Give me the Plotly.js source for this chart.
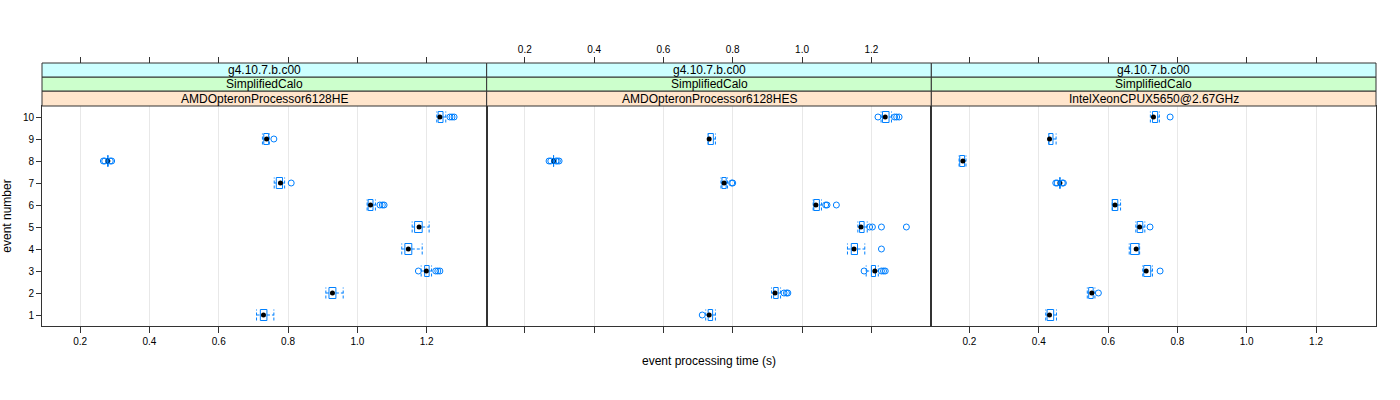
<!DOCTYPE html>
<html>
<head>
<meta charset="utf-8">
<script src="https://cdn.plot.ly/plotly-3.0.1.min.js"></script>
<style>html,body{margin:0;padding:0;background:#fff;}</style>
</head>
<body>
<div id="chart" style="width:1400px;height:400px;"></div>
<script>
// ---- data ----
const events = [1, 2, 3, 4, 5, 6, 7, 8, 9, 10];
const stripVersion = "g4.10.7.b.c00";
const stripTest = "SimplifiedCalo";
const machines = ["AMDOpteronProcessor6128HE", "AMDOpteronProcessor6128HES", "IntelXeonCPUX5650@2.67GHz"];
const tickVals = [0.2, 0.4, 0.6, 0.8, 1.0, 1.2];
const tickLabels = ["0.2", "0.4", "0.6", "0.8", "1.0", "1.2"];

// panel 1: AMDOpteronProcessor6128HE
const p1_lo  = [0.709, 0.909, 1.184, 1.128, 1.158, 1.028, 0.760, 0.280, 0.726, 1.229];
const p1_q1  = [0.720, 0.918, 1.194, 1.137, 1.165, 1.031, 0.766, 0.280, 0.730, 1.233];
const p1_med = [0.729, 0.928, 1.199, 1.147, 1.178, 1.038, 0.778, 0.280, 0.738, 1.238];
const p1_q3  = [0.739, 0.938, 1.207, 1.157, 1.187, 1.045, 0.784, 0.280, 0.744, 1.247];
const p1_hi  = [0.759, 0.959, 1.214, 1.187, 1.207, 1.052, 0.790, 0.280, 0.746, 1.255];
const p1_out = [[], [], [1.176, 1.226, 1.232, 1.238], [], [], [1.065, 1.072, 1.077], [0.809], [0.267, 0.271, 0.287, 0.291], [0.759], [1.267, 1.273, 1.279]];

// panel 2: AMDOpteronProcessor6128HES
const p2_lo  = [0.722, 0.912, 1.185, 1.131, 1.161, 1.032, 0.766, 0.283, 0.729, 1.228];
const p2_q1  = [0.729, 0.918, 1.200, 1.142, 1.166, 1.034, 0.769, 0.283, 0.729, 1.232];
const p2_med = [0.732, 0.922, 1.210, 1.150, 1.170, 1.040, 0.775, 0.283, 0.732, 1.240];
const p2_q3  = [0.742, 0.931, 1.212, 1.160, 1.179, 1.050, 0.781, 0.283, 0.744, 1.251];
const p2_hi  = [0.750, 0.938, 1.220, 1.181, 1.188, 1.056, 0.785, 0.283, 0.750, 1.258];
const p2_out = [[0.712], [0.948, 0.955, 0.959], [1.179, 1.229, 1.235, 1.240], [1.229], [1.195, 1.203, 1.229, 1.301], [1.068, 1.072, 1.099], [0.797, 0.800], [0.270, 0.275, 0.290, 0.294, 0.299], [], [1.219, 1.267, 1.273, 1.280]];

// panel 3: IntelXeonCPUX5650@2.67GHz
const p3_lo  = [0.420, 0.540, 0.700, 0.661, 0.680, 0.612, 0.461, 0.170, 0.429, 0.722];
const p3_q1  = [0.424, 0.544, 0.703, 0.665, 0.684, 0.612, 0.461, 0.172, 0.429, 0.728];
const p3_med = [0.431, 0.553, 0.710, 0.681, 0.691, 0.620, 0.461, 0.181, 0.431, 0.731];
const p3_q3  = [0.443, 0.557, 0.723, 0.689, 0.700, 0.628, 0.461, 0.186, 0.441, 0.743];
const p3_hi  = [0.451, 0.562, 0.728, 0.691, 0.706, 0.636, 0.461, 0.190, 0.450, 0.748];
const p3_out = [[], [0.572], [0.750], [], [0.721], [], [0.449, 0.453, 0.468, 0.471], [], [], [0.779]];

// ---- drawing ----
const BLUE = "#0080ff";
const FONT = "Liberation Sans, Arial, sans-serif";
const XR = [0.09, 1.373];

function panelTraces(xa, ya, lo, q1, med, q3, hi, out) {
  const h = 0.25;
  const bx = [], by = [], wx = [], wy = [], ox = [], oy = [];
  events.forEach((e, i) => {
    bx.push(q1[i], q3[i], q3[i], q1[i], q1[i], null);
    by.push(e - h, e - h, e + h, e + h, e - h, null);
    wx.push(lo[i], q1[i], null, q3[i], hi[i], null, lo[i], lo[i], null, hi[i], hi[i], null);
    wy.push(e, e, null, e, e, null, e - h, e + h, null, e - h, e + h, null);
    out[i].forEach(v => { ox.push(v); oy.push(e); });
  });
  const common = {xaxis: xa, yaxis: ya, hoverinfo: "skip", showlegend: false, type: "scatter"};
  return [
    Object.assign({x: bx, y: by, mode: "lines", line: {color: BLUE, width: 1}}, common),
    Object.assign({x: wx, y: wy, mode: "lines", line: {color: BLUE, width: 1, dash: "3px,2px"}}, common),
    Object.assign({x: med, y: events, mode: "markers", marker: {color: "black", size: 5}}, common),
    Object.assign({x: ox, y: oy, mode: "markers", marker: {symbol: "circle-open", color: BLUE, size: 6, line: {width: 1, color: BLUE}}}, common)
  ];
}

let traces = [];
traces = traces.concat(panelTraces("x", "y", p1_lo, p1_q1, p1_med, p1_q3, p1_hi, p1_out));
traces = traces.concat(panelTraces("x2", "y2", p2_lo, p2_q1, p2_med, p2_q3, p2_hi, p2_out));
traces = traces.concat(panelTraces("x3", "y3", p3_lo, p3_q1, p3_med, p3_q3, p3_hi, p3_out));
// invisible carriers for the top axes
[["x4", "y", p1_med], ["x5", "y2", p2_med], ["x6", "y3", p3_med]].forEach(([xa, ya, m]) => {
  traces.push({x: m, y: events, xaxis: xa, yaxis: ya, mode: "markers", marker: {opacity: 0}, hoverinfo: "skip", showlegend: false, type: "scatter"});
});

const plotH = 263;
const yTop = 220 / plotH;
const tickFont = {family: FONT, size: 10, color: "black"};

function xBottom(dom, anchor, labels) {
  return {domain: dom, anchor: anchor, range: XR, tickvals: tickVals, ticktext: tickLabels,
    showticklabels: labels, ticks: "outside", ticklen: 6, tickcolor: "#333", tickwidth: 1,
    showline: true, linecolor: "#333", linewidth: 1, mirror: true,
    showgrid: true, gridcolor: "#e8e8e8", gridwidth: 1, zeroline: false,
    tickfont: tickFont, fixedrange: true};
}
function xTop(over, labels) {
  return {overlaying: over, anchor: "free", position: 1, side: "top", range: XR,
    tickvals: tickVals, ticktext: tickLabels, showticklabels: labels,
    ticks: "outside", ticklen: 6, tickcolor: "#333", tickwidth: 1,
    showline: false, showgrid: false, zeroline: false, tickfont: tickFont, fixedrange: true};
}
function yAx(anchor, labels) {
  return {domain: [0, yTop], anchor: anchor, range: [0.5, 10.5], tickvals: events,
    ticktext: events.map(String), showticklabels: labels, ticks: labels ? "outside" : "",
    ticklen: 5, tickcolor: "#333", showline: true, linecolor: "#333", linewidth: 1, mirror: true,
    showgrid: false, zeroline: false, tickfont: tickFont, fixedrange: true};
}

const layout = {
  width: 1400, height: 400,
  margin: {l: 42, r: 24, t: 63, b: 74},
  paper_bgcolor: "white", plot_bgcolor: "white",
  showlegend: false,
  xaxis: xBottom([0, 1/3], "y", true),
  xaxis2: Object.assign(xBottom([1/3, 2/3], "y2", false), {title: {text: "event processing time (s)", font: {family: FONT, size: 12, color: "black"}, standoff: 24}}),
  xaxis3: xBottom([2/3, 1], "y3", true),
  xaxis4: xTop("x", false),
  xaxis5: xTop("x2", true),
  xaxis6: xTop("x3", false),
  yaxis: Object.assign(yAx("x", true), {title: {text: "event number", font: {family: FONT, size: 12, color: "black"}, standoff: 8}}),
  yaxis2: yAx("x2", false),
  yaxis3: yAx("x3", false),
  shapes: [],
  annotations: []
};

const stripLevels = [
  {y0: yTop, y1: (326 - 91) / plotH, color: "#ffe5cc", text: null},
  {y0: (326 - 91) / plotH, y1: (326 - 77) / plotH, color: "#ccffcc", text: stripTest},
  {y0: (326 - 77) / plotH, y1: 1, color: "#ccffff", text: stripVersion}
];
machines.forEach((m, p) => {
  stripLevels.forEach(s => {
    layout.shapes.push({type: "rect", xref: "paper", yref: "paper", x0: p / 3, x1: (p + 1) / 3,
      y0: s.y0, y1: s.y1, fillcolor: s.color, line: {color: "#333", width: 1}, layer: "above"});
    layout.annotations.push({xref: "paper", yref: "paper", x: (p + 0.5) / 3, y: (s.y0 + s.y1) / 2,
      text: s.text === null ? m : s.text, showarrow: false, xanchor: "center", yanchor: "middle",
      font: {family: FONT, size: 12, color: "black"}});
  });
});

Plotly.newPlot("chart", traces, layout, {displayModeBar: false, staticPlot: true});
</script>
</body>
</html>
